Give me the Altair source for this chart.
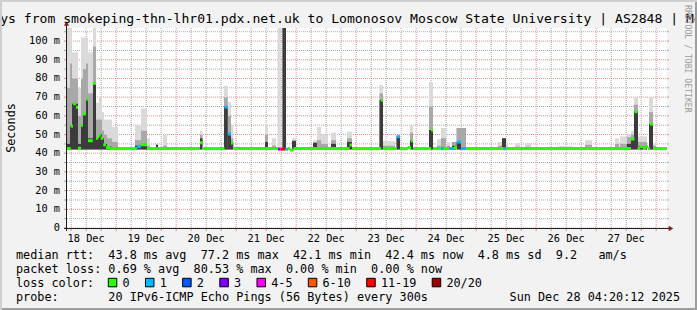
import altair as alt
import pandas as pd

MONO = "DejaVu Sans Mono"
START = 4 + 20 / 60      # window starts Dec 18 04:20 (hours after Dec 18 00:00)
SPAN = 240               # 10 days shown

# ---------------- smoke: ping spread per time slice (hours after window start, ms)
smoke_start = [0.0, 1.2, 2.0, 4.4, 5.6, 6.4, 7.6, 8.4, 10.4, 11.6, 12.8, 14.0, 14.8, 16.0, 18.0,
               27.2, 29.6, 32.0, 35.6, 38.4,
               53.2, 62.8, 64.3, 65.6,
               79.2, 82.0, 84.2, 86.2, 90.0,
               98.4, 100.0, 101.6, 105.6, 112.0,
               125.0, 126.4, 131.8, 137.2,
               144.8, 148.0, 149.6, 152.0, 154.0, 155.8, 157.6,
               172.4, 174.0, 175.6, 179.2, 183.2,
               196.0, 207.2, 219.2, 221.2, 224.0, 225.6, 226.8, 228.4, 232.8, 234.4]
smoke_end = [1.2, 2.0, 4.4, 5.6, 6.4, 7.6, 8.4, 10.4, 11.6, 12.8, 14.0, 14.8, 16.0, 18.0, 20.4,
             29.6, 32.0, 33.2, 36.4, 40.0,
             54.2, 64.3, 65.6, 66.5,
             80.4, 83.6, 85.6, 87.6, 91.6,
             100.0, 101.6, 104.4, 107.6, 114.0,
             126.4, 131.2, 133.2, 138.4,
             146.4, 149.6, 151.6, 153.2, 155.6, 157.6, 159.6,
             174.0, 175.6, 176.4, 181.2, 185.6,
             202.0, 210.0, 220.8, 224.0, 225.6, 226.8, 228.4, 232.0, 234.4, 235.6]
smoke_min = [42.0] * len(smoke_start)
smoke_outer = [107, 107, 94, 75, 102, 102, 102, 94, 107, 67, 70, 62, 58, 58, 54,
               55, 64, 48, 45, 50,
               52, 76, 67.5, 55,
               55.5, 48, 107, 107, 48,
               47, 54, 50, 51, 51.5,
               76.5, 46.5, 50, 55,
               78, 47.6, 53.5, 46, 46, 53.5, 53.5,
               46, 48, 45, 45.5, 45.5,
               43.8, 47, 48, 49, 50, 52, 70, 49, 70, 45]
smoke_inner = [75, 88, 80, 60, 80, 85, 88, 72, 97, 58, 58, 52, 50, 48, 46,
               47, 52, 44, 44.5, 44,
               50, 70, 60, 48,
               50, 44, 42, 107, 47,
               46, 47, 45, 47, 48,
               72, 44, 49.5, 51,
               65, 44, 48, 44, 46, 53.5, 53.5,
               44, 48, 43, 43.5, 43.5,
               43, 44.5, 45, 45, 48.6, 50, 66, 46, 62, 44]
smoke_core = [45, 54.5, 66.5, 45, 55, 61, 69, 48, 77.4, 48, 50, 48, 45, 43.5, 43,
              44, 45, 43, 44.5, 43,
              48, 64.7, 50.3, 45.4,
              46, 43, 42, 107, 46.5,
              45.5, 43, 43, 45, 46,
              68.4, 43, 48.8, 46.7,
              52.4, 43, 43, 43, 44, 46, 43,
              43, 48, 43, 43, 43,
              43, 43, 43, 43, 45, 47.6, 62.2, 43.5, 55.6, 43]

# ---------------- median rtt samples (hours after window start, ms, packets lost)
median_start = [0.0, 1.5, 2.4, 3.6, 4.4, 5.6, 6.4, 7.6, 8.4, 10.3, 11.6, 12.5, 13.5, 14.5, 15.6, 17.2,
                28.0, 29.6, 32.0,
                53.2, 54.2, 63.0, 64.3, 65.6, 66.5,
                84.4, 85.4, 87.4, 88.4, 89.2, 90.6,
                113.0, 114.0,
                125.6, 126.4, 132.0, 133.2, 136.4, 137.6, 138.4,
                145.6, 146.4, 149.6, 150.6, 153.0, 154.8, 156.0, 157.6, 159.6,
                174.4, 175.6,
                225.6, 227.0, 228.2, 229.2, 230.4, 231.6, 232.4, 233.2, 234.4]
median_rtt = [42.5, 54.5, 66.5, 64.6, 42.7, 55, 61, 69, 46.7, 77.4, 48, 49.6, 48, 44.5, 43, 42.5,
              43.5, 44.5, 42.5,
              45.6, 42.5, 64.7, 50.3, 45.4, 42.5,
              42.2, 42.2, 42.2, 42.5, 41.7, 42.5,
              44.4, 42.5,
              68.4, 42.5, 48.8, 42.5, 43, 46.7, 42.5,
              52.4, 42.5, 42.5, 42.5, 42.5, 43, 46, 42.5, 42.5,
              42.5, 42.5,
              47.6, 62.2, 42.5, 43.5, 42.8, 43.5, 42.5, 55.6, 42.5]
median_loss = ["0"] * 16 + ["1", "0", "0"] + ["0", "0", "1", "1", "0", "0"] + \
              ["3", "11-19", "1", "0", "0", "0"] + ["0", "0"] + \
              ["0", "0", "1", "0", "0", "0", "0"] + \
              ["0", "0", "1", "0", "1", "0", "1", "1", "0"] + ["1", "0"] + ["0"] * 9

loss_labels = ["0", "1", "2", "3", "4-5", "6-10", "11-19", "20/20"]
loss_colors = ["#26ff00", "#00b8ff", "#0059ff", "#7e00ff", "#ff00ff", "#ff5500", "#ff0000", "#a00000"]

day_labels = ["18 Dec", "19 Dec", "20 Dec", "21 Dec", "22 Dec", "23 Dec", "24 Dec", "25 Dec", "26 Dec", "27 Dec"]
x_tick_values = list(range(6, 241, 6))          # grid every 6 h (hours after Dec 18 00:00)
y_tick_values = list(range(0, 106, 5))          # grid every 5 ms
y_labels = ["0", "10 m", "20 m", "30 m", "40 m", "50 m", "60 m", "70 m", "80 m", "90 m", "100 m"]

title_text = ("Last 10 Days from smokeping-thn-lhr01.pdx.net.uk to Lomonosov Moscow State University"
              " | AS2848 | Moscow, Russia")
y_title = "Seconds"
rtt_stats = ["43.8 ms avg", "77.2 ms max", "42.1 ms min", "42.4 ms now", "4.8 ms sd", "9.2   am/s"]
loss_stats = ["0.69 % avg", "80.53 % max", "0.00 % min", "0.00 % now"]
probe_text = "20 IPv6-ICMP Echo Pings (56 Bytes) every 300s"
stamp_text = "Sun Dec 28 04:20:12 2025"
watermark = "RRDTOOL / TOBI OETIKER"

# ---------------- styling
BACK = "#f2f2f2"
SHADEA = "#cfcfcf"
SHADEB = "#9e9e9e"
GRID = "#a8a8a8"
MGRID = "#e88c8c"
ARROW = "#801f1f"
AXIS = "#1f1f1f"
SMOKE = ["#dadada", "#a8a8a8", "#3c3c3c"]
L, T = 67, 28          # plot origin in the page
W, H = 600, 200
CW = 7.1               # legend character width
NB = "\u00a0"

smoke = pd.DataFrame({
    "t0": [s + START for s in smoke_start], "t1": [e + START for e in smoke_end],
    "lo": smoke_min, "outer": smoke_outer, "inner": smoke_inner, "core": smoke_core,
})
median = pd.DataFrame({
    "t0": [s + START for s in median_start],
    "t1": [s + START for s in median_start[1:]] + [START + SPAN],
    "rtt": median_rtt, "loss": median_loss,
})

x_scale = alt.Scale(domain=[START, START + SPAN], nice=False, zero=False)
y_scale = alt.Scale(domain=[0, 107], nice=False, zero=True)


def X(field):
    return alt.X(field, type="quantitative", scale=x_scale, axis=None)


def Y(field):
    return alt.Y(field, type="quantitative", scale=y_scale, axis=None)


# ---------------- grid and ticks (drawn through the scales)
vgrid = pd.DataFrame({"t": x_tick_values, "major": [v % 24 == 0 for v in x_tick_values]})
hgrid = pd.DataFrame({"v": y_tick_values, "major": [v % 10 == 0 for v in y_tick_values]})
grid_color = alt.Color("major:N", scale=alt.Scale(domain=[False, True], range=[GRID, MGRID]), legend=None)

vg = alt.Chart(vgrid).mark_rule(strokeDash=[1, 1], strokeWidth=1).encode(
    x=X("t"), y=alt.value(0), y2=alt.value(H), color=grid_color)
hg = alt.Chart(hgrid).mark_rule(strokeDash=[1, 1], strokeWidth=1).encode(
    y=Y("v"), x=alt.value(0), x2=alt.value(W), color=grid_color)
vt = alt.Chart(vgrid).mark_rule(strokeWidth=1).encode(
    x=X("t"), y=alt.value(H), y2=alt.value(H + 3), color=grid_color)
ht_left = alt.Chart(hgrid).mark_rule(strokeWidth=1).encode(
    y=Y("v"), x=alt.value(-3), x2=alt.value(0), color=grid_color)
ht_right = alt.Chart(hgrid).mark_rule(strokeWidth=1).encode(
    y=Y("v"), x=alt.value(W), x2=alt.value(W + 2), color=grid_color)

day_df = pd.DataFrame({"t": [12 + 24 * i for i in range(len(day_labels))], "label": day_labels})
x_lab = alt.Chart(day_df).mark_text(font=MONO, fontSize=10.3, align="center", baseline="alphabetic",
                                    color="black").encode(
    x=X("t"), y=alt.value(241.5 - T), text="label:N")
ylab_df = pd.DataFrame({"v": [10 * i for i in range(len(y_labels))],
                        "label": [s.replace(" ", NB) for s in y_labels]})
y_lab = alt.Chart(ylab_df).mark_text(font=MONO, fontSize=10.3, align="right", baseline="middle",
                                     color="black").encode(
    y=Y("v"), x=alt.value(-7), text="label:N")

# ---------------- data marks
sm = alt.Chart(smoke)
outer = sm.mark_rect(color=SMOKE[0]).encode(x=X("t0"), x2="t1:Q", y=Y("lo"), y2="outer:Q")
inner = sm.mark_rect(color=SMOKE[1]).encode(x=X("t0"), x2="t1:Q", y=Y("lo"), y2="inner:Q")
core = sm.mark_rect(color=SMOKE[2]).encode(x=X("t0"), x2="t1:Q", y=Y("lo"), y2="core:Q")

med = alt.Chart(median).mark_rule(strokeWidth=3).encode(
    x=X("t0"), x2="t1:Q", y=Y("rtt"),
    color=alt.Color("loss:N", scale=alt.Scale(domain=loss_labels, range=loss_colors), legend=None))

# ---------------- decorations
one = pd.DataFrame({"k": [0]})
deco = alt.Chart(one)
x_line = deco.mark_rule(color=AXIS, strokeWidth=1).encode(
    x=alt.value(-3), x2=alt.value(W + 2), y=alt.value(H + 0.5))
y_line = deco.mark_rule(color=AXIS, strokeWidth=1).encode(
    x=alt.value(-0.5), y=alt.value(-3), y2=alt.value(H + 3))
up_arrow = deco.mark_point(shape="triangle-up", filled=True, size=28, color=ARROW, opacity=1).encode(
    x=alt.value(-0.5), y=alt.value(-4.5))
right_arrow = deco.mark_point(shape="triangle-right", filled=True, size=28, color=ARROW, opacity=1).encode(
    x=alt.value(W + 4), y=alt.value(H + 0.5))


def text_at(txt, x, y, size=11.8, align="left", **kw):
    return deco.mark_text(text=txt.replace(" ", NB), font=MONO, fontSize=size, align=align,
                          baseline=kw.pop("baseline", "alphabetic"), color=kw.pop("color", "black"),
                          **kw).encode(x=alt.value(x - L), y=alt.value(y - T))


title = text_at(title_text, -78.7, 23, size=13.1)
wm = text_at(watermark, 687, 5, size=8.15, baseline="middle", angle=90, color="#9a9a9a")
ytitle = text_at(y_title, 10.5, 128, size=11.8, align="center", baseline="middle", angle=270)

lines = [
    "median rtt:  " + "  ".join(rtt_stats),
    "packet loss: " + "  ".join(loss_stats),
    "loss color:",
    "probe:       " + probe_text,
]
legend_layers = [text_at(s, 16, 258.5 + 14 * i) for i, s in enumerate(lines)]
legend_layers.append(text_at(stamp_text, 680, 258.5 + 42, align="right"))

pos = 16 + 13 * CW
for lab, col in zip(loss_labels, loss_colors):
    legend_layers.append(deco.mark_rect(color=col, stroke="black", strokeWidth=1).encode(
        x=alt.value(pos - L), x2=alt.value(pos + 8.5 - L),
        y=alt.value(278.3 - T), y2=alt.value(286.8 - T)))
    legend_layers.append(text_at(lab, pos + 2 * CW, 286.5))
    pos += (4.25 + len(lab)) * 7.08

# 3d frame of the image
frame_top = deco.mark_rule(color=SHADEA, strokeWidth=2).encode(
    x=alt.value(-L), x2=alt.value(697 - L), y=alt.value(1 - T))
frame_left = deco.mark_rule(color=SHADEA, strokeWidth=2).encode(
    x=alt.value(1 - L), y=alt.value(-T), y2=alt.value(310 - T))
frame_bottom = deco.mark_rule(color=SHADEB, strokeWidth=2).encode(
    x=alt.value(2 - L), x2=alt.value(697 - L), y=alt.value(309 - T))
frame_right = deco.mark_rule(color=SHADEB, strokeWidth=2).encode(
    x=alt.value(696 - L), y=alt.value(2 - T), y2=alt.value(310 - T))

chart = alt.layer(
    vg, hg, vt, ht_left, ht_right,
    outer, inner, core, med,
    x_line, y_line, up_arrow, right_arrow, x_lab, y_lab,
    title, wm, ytitle, *legend_layers,
    frame_top, frame_left, frame_bottom, frame_right,
).resolve_scale(color="independent").properties(
    width=W, height=H,
    padding={"left": L, "top": T, "right": 697 - L - W, "bottom": 310 - T - H},
    autosize=alt.AutoSizeParams(type="none"),
    background=BACK,
).configure_view(stroke=None, fill="white")

chart.save("out.html", embed_options={"renderer": "svg", "actions": False})
